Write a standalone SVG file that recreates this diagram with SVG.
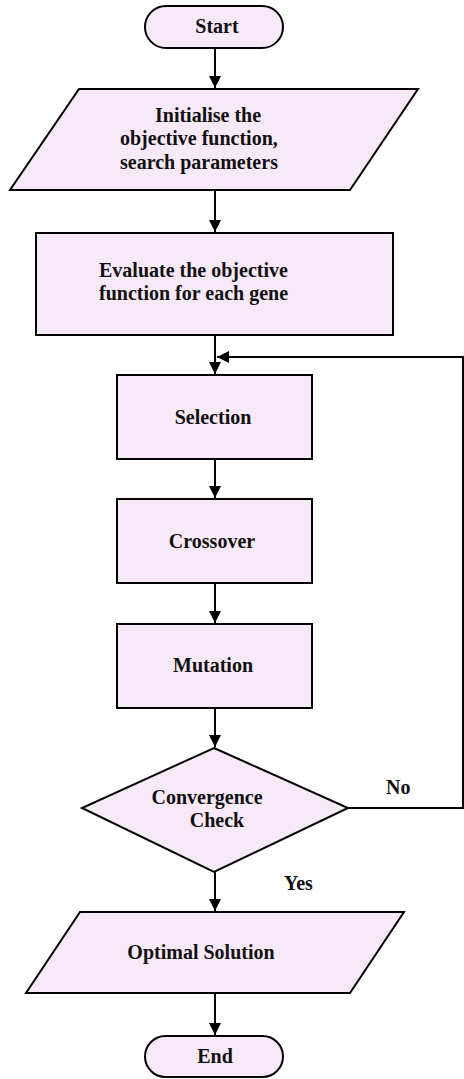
<svg xmlns="http://www.w3.org/2000/svg" width="464" height="1079" viewBox="0 0 464 1079">
<style>
.s{fill:#F8E9F8;stroke:#000;stroke-width:2}
.c{text-anchor:middle}
.l{fill:none;stroke:#000;stroke-width:2}
text{font-family:"Liberation Serif",serif !important;font-weight:bold;font-size:20px;fill:#111}
</style>
<defs>
<marker id="a" markerWidth="12" markerHeight="12" refX="10" refY="5" orient="auto" markerUnits="userSpaceOnUse" viewBox="0 0 10 10">
<path d="M0,0 L10,5 L0,10 z" fill="#000"/>
</marker>
</defs>
<rect width="464" height="1079" fill="#fff"/>
<g id="connectors">
<line class="l" x1="215" y1="48" x2="215" y2="88" marker-end="url(#a)"/>
<line class="l" x1="215" y1="190" x2="215" y2="232" marker-end="url(#a)"/>
<line class="l" x1="215" y1="335" x2="215" y2="374" marker-end="url(#a)"/>
<line class="l" x1="215" y1="459" x2="215" y2="498" marker-end="url(#a)"/>
<line class="l" x1="215" y1="583" x2="215" y2="623" marker-end="url(#a)"/>
<line class="l" x1="215" y1="708" x2="215" y2="747" marker-end="url(#a)"/>
<line class="l" x1="215" y1="872" x2="215" y2="911" marker-end="url(#a)"/>
<line class="l" x1="215" y1="993" x2="215" y2="1035" marker-end="url(#a)"/>
<polyline class="l" points="348,808 463,808 463,357 217,357" marker-end="url(#a)"/>
<text font-family="Liberation Serif" x="386" y="794">No</text>
<text font-family="Liberation Serif" x="284" y="890">Yes</text>
</g>
<g id="start">
<rect class="s" x="145" y="6" width="138" height="42" rx="21"/>
<text font-family="Liberation Serif" class="c" x="217" y="33">Start</text>
</g>
<g id="init">
<polygon class="s" points="79,89 418,89 350,190 10,190"/>
<text font-family="Liberation Serif" x="155" y="122">Initialise the</text>
<text font-family="Liberation Serif" x="120" y="145">objective function,</text>
<text font-family="Liberation Serif" x="120" y="169">search parameters</text>
</g>
<g id="evaluate">
<rect class="s" x="36" y="233" width="357" height="102"/>
<text font-family="Liberation Serif" x="99" y="277">Evaluate the objective</text>
<text font-family="Liberation Serif" x="99" y="300">function for each gene</text>
</g>
<g id="selection">
<rect class="s" x="117" y="375" width="195" height="84"/>
<text font-family="Liberation Serif" class="c" x="213" y="424">Selection</text>
</g>
<g id="crossover">
<rect class="s" x="117" y="499" width="195" height="84"/>
<text font-family="Liberation Serif" class="c" x="212" y="548">Crossover</text>
</g>
<g id="mutation">
<rect class="s" x="117" y="624" width="195" height="84"/>
<text font-family="Liberation Serif" class="c" x="213" y="672">Mutation</text>
</g>
<g id="convergence">
<polygon class="s" points="214,748 348,808 214,872 82,808"/>
<text font-family="Liberation Serif" class="c" x="207" y="804">Convergence</text>
<text font-family="Liberation Serif" class="c" x="217" y="827">Check</text>
</g>
<g id="optimal">
<polygon class="s" points="80,912 404,912 350,993 26,993"/>
<text font-family="Liberation Serif" class="c" x="201" y="959">Optimal Solution</text>
</g>
<g id="end">
<rect class="s" x="145" y="1036" width="138" height="41" rx="20.5"/>
<text font-family="Liberation Serif" class="c" x="215" y="1063">End</text>
</g>
</svg>
